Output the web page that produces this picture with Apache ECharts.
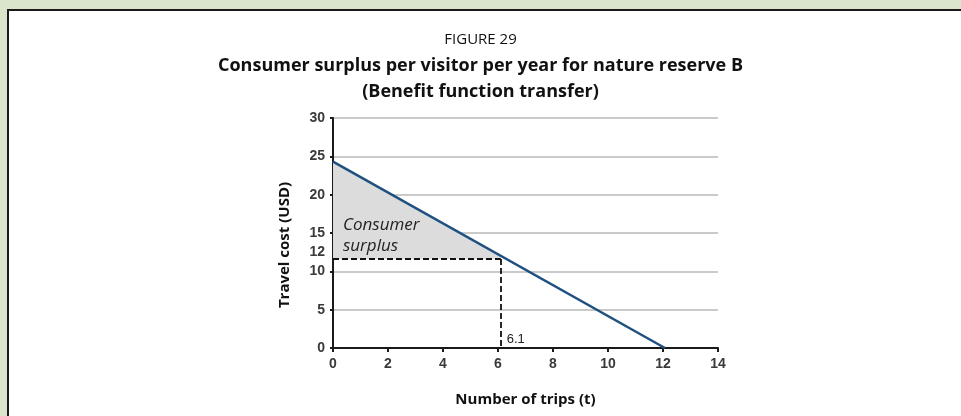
<!DOCTYPE html>
<html>
<head>
<meta charset="utf-8">
<script src="https://cdn.jsdelivr.net/npm/echarts@6/dist/echarts.min.js"></script>
<style>
  html, body { margin: 0; padding: 0; background: #dbe5cb; }
  #frame {
    position: absolute; left: 7px; top: 9px; right: 0; bottom: 0;
    background: #fff; border-left: 2px solid #1a1a1a; border-top: 2px solid #1a1a1a;
  }
  #chart { position: absolute; left: -9px; top: -11px; width: 961px; height: 416px; }
</style>
</head>
<body>
<div id="frame"><div id="chart"></div></div>
<script>
// demand curve: travel cost vs number of trips
const demandCurve = [[0, 24.3], [12.07, 0]]
// consumer surplus region (above price line, below demand curve)
const surplusArea = [[0, 24.3], [6.1, 11.95]]
const priceLevel = 11.6
const tripsAtPrice = 6.1
const priceLabel = '12'
const xTicks = [0, 2, 4, 6, 8, 10, 12, 14]
const yTicks = [0, 5, 10, 15, 20, 25, 30]

const chart = echarts.init(document.getElementById('chart'))

const tickFont = { fontFamily: 'Liberation Sans', fontSize: 14, fontWeight: 'bold', color: '#3a3a3a' }
const fig = '"Open Sans", "Noto Sans", sans-serif'

chart.setOption({
  animation: false,
  title: [{
    text: 'FIGURE 29',
    left: 'center', top: 27,
    textStyle: { fontFamily: fig, fontSize: 15, fontWeight: 'normal', color: '#111' }
  }, {
    text: 'Consumer surplus per visitor per year for nature reserve B',
    left: 'center', top: 52,
    textStyle: { fontFamily: fig, fontSize: 18, fontWeight: 'bold', color: '#111' }
  }, {
    text: '(Benefit function transfer)',
    left: 'center', top: 78,
    textStyle: { fontFamily: fig, fontSize: 18, fontWeight: 'bold', color: '#111' }
  }],
  grid: { left: 333, right: 243, top: 118, bottom: 68 },
  xAxis: {
    type: 'value', min: 0, max: 14, interval: 2,
    name: 'Number of trips (t)', nameLocation: 'middle', nameGap: 44,
    nameTextStyle: { fontFamily: fig, fontSize: 15, fontWeight: 'bold', color: '#111' },
    axisLine: { lineStyle: { color: '#1a1a1a', width: 2 } },
    axisTick: { show: true, length: 4, lineStyle: { color: '#1a1a1a', width: 2 } },
    axisLabel: Object.assign({ margin: 9 }, tickFont),
    splitLine: { show: false }
  },
  yAxis: {
    type: 'value', min: 0, max: 30, interval: 5,
    name: 'Travel cost (USD)', nameLocation: 'middle', nameGap: 41,
    nameTextStyle: { fontFamily: fig, fontSize: 15, fontWeight: 'bold', color: '#111', padding: [0, 24, 0, 0] },
    axisLine: { show: true, lineStyle: { color: '#1a1a1a', width: 2 } },
    axisTick: { show: true, length: 3, lineStyle: { color: '#1a1a1a', width: 2 } },
    axisLabel: Object.assign({ margin: 8 }, tickFont),
    splitLine: { show: true, lineStyle: { color: '#b8b8b8', width: 1.5 } }
  },
  series: [{
    type: 'line',
    data: surplusArea,
    symbol: 'none',
    lineStyle: { width: 0 },
    areaStyle: { color: '#dcdcdc', opacity: 1, origin: priceLevel },
    z: 1
  }, {
    type: 'line',
    data: demandCurve,
    symbol: 'none',
    lineStyle: { color: '#1f5180', width: 2.5 },
    z: 3,
    markLine: {
      silent: true,
      symbol: 'none',
      lineStyle: { color: '#111', type: [6, 3], width: 1.8 },
      data: [
        [{ coord: [0, priceLevel], label: { show: true, position: 'start', formatter: priceLabel, distance: 8, offset: [0, -7], ...tickFont } },
         { coord: [tripsAtPrice, priceLevel] }],
        [{ coord: [tripsAtPrice, priceLevel], label: { show: false } },
         { coord: [tripsAtPrice, 0], label: { show: false } }]
      ]
    },
    markPoint: {
      silent: true,
      symbol: 'circle',
      symbolSize: 0,
      data: [
        { coord: [tripsAtPrice, 0], label: { show: true, formatter: '6.1', position: 'right', align: 'left', offset: [1, -9], fontFamily: 'Liberation Sans', fontSize: 13, color: '#222' } },
        { coord: [0, 14.7], label: { show: true, formatter: 'Consumer\nsurplus', position: 'right', align: 'left', offset: [5, 0], lineHeight: 21, fontFamily: fig, fontStyle: 'italic', fontSize: 17, color: '#222' } }
      ]
    }
  }]
})
</script>
</body>
</html>
